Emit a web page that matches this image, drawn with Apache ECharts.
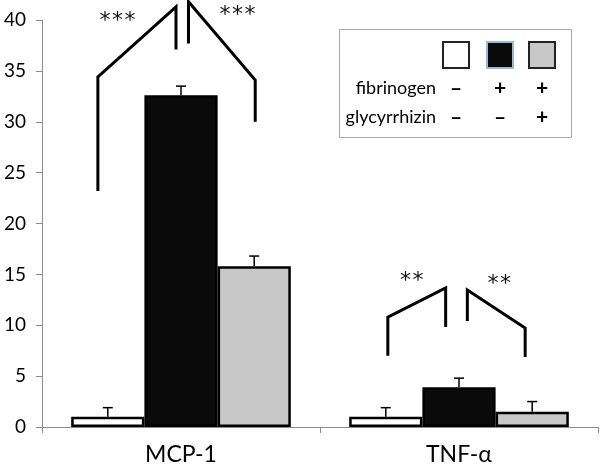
<!DOCTYPE html>
<html>
<head>
	<meta charset="UTF-8">
	<title>MCP-1 / TNF-α</title>
	<style>
		html, body {margin: 0; padding: 0; background: #fff;}
		#chart {width: 600px; height: 474px;}
	</style>
</head>
<body>
<div id="chart"></div>
<script src="https://cdn.jsdelivr.net/npm/echarts@6/dist/echarts.min.js"></script>
<script type="text/javascript">
    // categories and bar values
    var categories = ['MCP-1', 'TNF-α'];
    var controlVals = [1.0, 1.0];
    var controlErr = [0.9, 0.9];
    var fibVals = [32.6, 3.9];
    var fibErr = [0.9, 0.9];
    var fibGlyVals = [15.8, 1.5];
    var fibGlyErr = [1.0, 1.0];

    // legend table rows
    var fibrinogenRow = ['-', '+', '+'];
    var glycyrrhizinRow = ['-', '-', '+'];

    // significance brackets, x in category units (0..2), y in axis units
    var bracketMcpLeft = [[0.201, 23.2], [0.201, 34.4], [0.482, 41.3], [0.482, 37.1]];
    var bracketMcpRight = [[0.527, 37.7], [0.527, 41.8], [0.767, 34.1], [0.767, 30.0]];
    var bracketTnfLeft = [[1.244, 7.0], [1.244, 10.8], [1.452, 13.66], [1.452, 9.83]];
    var bracketTnfRight = [[1.530, 10.42], [1.530, 13.46], [1.738, 9.73], [1.738, 6.88]];
    var starLabels = ['***', '***', '**', '**'];
    var starPos = [[0.272, 39.9], [0.703, 40.5], [1.330, 14.35], [1.645, 14.05]];

    var FONT = 'Lato';
    var GAP = 0.21;   // barCategoryGap
    var barColors = ['#ffffff', '#0a0a0a', '#c8c8c8'];

    var chart = echarts.init(document.getElementById('chart'));

    // error bars: drawn with the category band and the bar layout
    var errData = [];
    [[controlVals, controlErr], [fibVals, fibErr], [fibGlyVals, fibGlyErr]].forEach(function (g, gi) {
        for (var i = 0; i < categories.length; i++) {
            errData.push([i, g[0][i], g[1][i], gi]);
        }
    });

    function renderErr(params, api) {
        var cat = api.value(0), val = api.value(1), err = api.value(2), gi = api.value(3);
        var band = api.size([1, 0])[0];
        var bw = band * (1 - GAP) / 3;
        var p0 = api.coord([cat, val]);
        var p1 = api.coord([cat, val + err]);
        var cx = p0[0] + (gi - 1) * bw;
        var st = {stroke: '#000', lineWidth: 1.5, fill: null};
        return {
            type: 'group',
            children: [
                {type: 'line', shape: {x1: cx, y1: p0[1], x2: cx, y2: p1[1]}, style: st},
                {type: 'line', shape: {x1: cx - 5, y1: p1[1], x2: cx + 5, y2: p1[1]}, style: st}
            ]
        };
    }

    // stars drawn one by one so they get the wide spacing of the original
    function renderStar(params, api) {
        var p = api.coord([api.value(0), api.value(1)]);
        var s = starLabels[params.dataIndex];
        var step = 12.5;
        var kids = [];
        for (var k = 0; k < s.length; k++) {
            kids.push({
                type: 'text', x: p[0] + (k - (s.length - 1) / 2) * step, y: p[1],
                style: {text: s[k], fill: '#111', font: '22px "DejaVu Sans"', align: 'center', verticalAlign: 'middle'}
            });
        }
        return {type: 'group', children: kids};
    }

    function bracketSeries(pts) {
        return {
            type: 'line', xAxisIndex: 1, yAxisIndex: 0,
            data: pts, symbol: 'none', clip: false, silent: true,
            lineStyle: {color: '#000', width: 3, join: 'miter'},
            z: 5
        };
    }

    function barSeries(vals, color) {
        return {
            type: 'bar', data: vals, barGap: '0%', barCategoryGap: (GAP * 100) + '%',
            itemStyle: {color: color, borderColor: '#000', borderWidth: 2.5},
            silent: true
        };
    }

    function signText(s, x, y) {
        return {type: 'text', x: x, y: y,
            style: {text: s === '-' ? '\u2013' : s, font: 'bold 21px ' + FONT, fill: '#000', align: 'center', verticalAlign: 'middle'}};
    }

    // legend box (table with swatches and +/- rows)
    var legendItems = [
        {type: 'rect', shape: {x: 339.5, y: 29.5, width: 232, height: 108},
            style: {fill: '#fff', stroke: '#a6a6a6', lineWidth: 1}}
    ];
    var colX = [456, 500, 542];
    barColors.forEach(function (c, i) {
        legendItems.push({type: 'rect', shape: {x: colX[i] - 13, y: 42, width: 26, height: 26},
            style: {fill: c, stroke: i === 1 ? '#9ab8d8' : '#222', lineWidth: 2}});
        legendItems.push(signText(fibrinogenRow[i], colX[i], 88));
        legendItems.push(signText(glycyrrhizinRow[i], colX[i], 117));
    });
    legendItems.push({type: 'text', x: 436, y: 88,
        style: {text: 'fibrinogen', font: '18px ' + FONT, fill: '#000', align: 'right', verticalAlign: 'middle'}});
    legendItems.push({type: 'text', x: 436, y: 117,
        style: {text: 'glycyrrhizin', font: '18px ' + FONT, fill: '#000', align: 'right', verticalAlign: 'middle'}});

    chart.setOption({
        animation: false,
        textStyle: {fontFamily: FONT},
        grid: {left: 42, right: 2, top: 20, bottom: 47},
        xAxis: [
            {
                type: 'category', data: categories,
                axisLine: {lineStyle: {color: '#8c8c8c', width: 1}},
                axisTick: {show: true, length: 6, lineStyle: {color: '#8c8c8c'}},
                axisLabel: {fontSize: 23, color: '#000', margin: 16, fontFamily: FONT}
            },
            {type: 'value', min: 0, max: 2, show: false}
        ],
        yAxis: {
            type: 'value', min: 0, max: 40, interval: 5,
            splitLine: {show: false},
            axisLine: {show: true, lineStyle: {color: '#8c8c8c', width: 1}},
            axisTick: {show: true, length: 6, lineStyle: {color: '#8c8c8c'}},
            axisLabel: {fontSize: 19, color: '#000', margin: 16, fontFamily: FONT}
        },
        graphic: legendItems,
        series: [
            barSeries(controlVals, barColors[0]),
            barSeries(fibVals, barColors[1]),
            barSeries(fibGlyVals, barColors[2]),
            {type: 'custom', renderItem: renderErr, data: errData, z: 4, silent: true},
            bracketSeries(bracketMcpLeft),
            bracketSeries(bracketMcpRight),
            bracketSeries(bracketTnfLeft),
            bracketSeries(bracketTnfRight),
            {type: 'custom', xAxisIndex: 1, renderItem: renderStar, data: starPos, z: 5, silent: true, clip: false}
        ]
    });
</script>
</body>
</html>
